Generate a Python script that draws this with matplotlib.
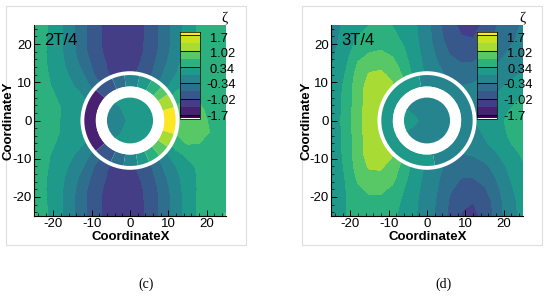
import numpy as np
import matplotlib
matplotlib.use('Agg')
import matplotlib.pyplot as plt
from matplotlib.colors import ListedColormap, BoundaryNorm
from matplotlib.patches import Circle, Wedge, Rectangle

plt.rcParams['font.family'] = ['Liberation Sans', 'DejaVu Sans']
plt.rcParams['axes.unicode_minus'] = False

W, H = 550, 298

levels = [-1.7, -1.36, -1.02, -0.68, -0.34, 0, 0.34, 0.68, 1.02, 1.36, 1.7]
bar_ticks = [1.7, 1.02, 0.34, -0.34, -1.02, -1.7]
bar_labels = ['1.7', '1.02', '0.34', '-0.34', '-1.02', '-1.7']
ticks = [-20, -10, 0, 10, 20]

grid = [-25, -21, -18, -15, -12, -9, -6, -3, 0, 3, 6, 9, 12, 15, 18, 21, 25]
disc_grid = [-6, -3, 0, 3, 6]

# 2T/4, rows go from y=-25 up to y=25
zeta_c = [
    [0.75, 0.30, 0.04, -0.28, -0.62, -0.92, -1.12, -1.22, -1.20, -1.07, -0.85, -0.50, -0.20, 0.15, 0.40, 0.48, 0.72],
    [0.52, 0.30, 0.04, -0.28, -0.62, -0.92, -1.12, -1.22, -1.20, -1.07, -0.85, -0.50, -0.20, 0.15, 0.40, 0.48, 0.55],
    [0.48, 0.30, 0.05, -0.25, -0.60, -0.90, -1.10, -1.20, -1.18, -1.05, -0.82, -0.48, -0.16, 0.16, 0.38, 0.46, 0.50],
    [0.48, 0.31, 0.08, -0.18, -0.50, -0.82, -1.04, -1.15, -1.13, -1.00, -0.74, -0.40, -0.10, 0.18, 0.38, 0.46, 0.50],
    [0.48, 0.33, 0.13, -0.08, -0.35, -0.72, -1.00, -1.10, -1.08, -0.95, -0.64, -0.28, 0.00, 0.24, 0.40, 0.47, 0.50],
    [0.49, 0.35, 0.20, 0.03, -0.18, -0.50, -0.85, -1.00, -1.00, -0.85, -0.50, -0.10, 0.22, 0.40, 0.48, 0.52, 0.52],
    [0.50, 0.40, 0.28, 0.14, 0.00, -0.30, -0.70, -0.85, -0.85, -0.70, -0.30, 0.15, 0.52, 0.70, 0.68, 0.55, 0.52],
    [0.50, 0.42, 0.33, 0.20, 0.08, -0.15, -0.50, -0.70, -0.70, -0.50, 0.00, 0.45, 0.72, 0.80, 0.78, 0.67, 0.52],
    [0.50, 0.43, 0.33, 0.22, 0.10, -0.10, -0.40, -0.60, -0.60, -0.40, 0.10, 0.50, 0.75, 0.82, 0.78, 0.64, 0.52],
    [0.50, 0.42, 0.34, 0.22, 0.08, -0.15, -0.50, -0.70, -0.70, -0.50, 0.00, 0.45, 0.72, 0.78, 0.74, 0.58, 0.50],
    [0.50, 0.40, 0.30, 0.15, 0.00, -0.30, -0.70, -0.85, -0.85, -0.70, -0.30, 0.15, 0.50, 0.68, 0.62, 0.50, 0.50],
    [0.49, 0.36, 0.20, 0.03, -0.18, -0.50, -0.85, -1.00, -1.00, -0.85, -0.50, -0.10, 0.20, 0.38, 0.47, 0.50, 0.50],
    [0.48, 0.33, 0.13, -0.08, -0.35, -0.72, -1.00, -1.10, -1.08, -0.95, -0.64, -0.28, 0.00, 0.24, 0.40, 0.47, 0.50],
    [0.48, 0.31, 0.08, -0.18, -0.50, -0.82, -1.04, -1.15, -1.13, -1.00, -0.74, -0.40, -0.10, 0.18, 0.38, 0.46, 0.50],
    [0.48, 0.30, 0.05, -0.25, -0.60, -0.90, -1.10, -1.20, -1.18, -1.05, -0.82, -0.48, -0.16, 0.16, 0.38, 0.46, 0.50],
    [0.52, 0.30, 0.04, -0.28, -0.62, -0.92, -1.12, -1.22, -1.20, -1.07, -0.85, -0.50, -0.20, 0.15, 0.40, 0.48, 0.50],
    [0.72, 0.30, 0.04, -0.28, -0.62, -0.92, -1.12, -1.22, -1.20, -1.07, -0.85, -0.50, -0.20, 0.15, 0.40, 0.48, 0.55],
]
# 3T/4
zeta_d = [
    [-0.05, 0.34, 0.45, 0.50, 0.52, 0.42, 0.20, 0.02, -0.20, -0.42, -0.78, -1.05, -1.15, -0.90, -0.60, -0.18, 0.10],
    [-0.03, 0.33, 0.52, 0.62, 0.62, 0.50, 0.27, 0.05, -0.18, -0.40, -0.72, -0.95, -1.00, -0.85, -0.55, -0.15, 0.12],
    [-0.02, 0.35, 0.62, 0.74, 0.74, 0.62, 0.34, 0.08, -0.14, -0.36, -0.64, -0.82, -0.85, -0.72, -0.45, -0.10, 0.16],
    [0.00, 0.38, 0.74, 0.92, 0.94, 0.78, 0.44, 0.12, -0.10, -0.32, -0.55, -0.68, -0.68, -0.56, -0.33, -0.04, 0.22],
    [0.02, 0.42, 0.84, 1.06, 1.06, 0.90, 0.54, 0.17, -0.07, -0.27, -0.45, -0.54, -0.53, -0.42, -0.22, 0.04, 0.30],
    [0.03, 0.46, 0.88, 1.16, 1.20, 1.04, 0.64, 0.22, -0.05, -0.22, -0.34, -0.36, -0.32, -0.20, -0.04, 0.16, 0.38],
    [0.04, 0.48, 0.88, 1.18, 1.26, 1.12, 0.72, 0.27, -0.05, -0.18, -0.24, -0.22, -0.12, -0.04, 0.10, 0.30, 0.46],
    [0.05, 0.49, 0.88, 1.20, 1.29, 1.15, 0.78, 0.30, -0.05, -0.18, -0.22, -0.20, -0.10, 0.04, 0.18, 0.36, 0.50],
    [0.05, 0.50, 0.88, 1.20, 1.30, 1.15, 0.80, 0.30, -0.05, -0.15, -0.18, -0.15, -0.02, 0.12, 0.24, 0.38, 0.50],
    [0.05, 0.49, 0.88, 1.20, 1.29, 1.15, 0.78, 0.30, -0.05, -0.15, -0.18, -0.17, -0.10, 0.02, 0.16, 0.32, 0.44],
    [0.04, 0.48, 0.88, 1.18, 1.26, 1.12, 0.74, 0.28, -0.05, -0.15, -0.20, -0.20, -0.15, -0.08, 0.06, 0.22, 0.36],
    [0.02, 0.44, 0.88, 1.14, 1.20, 1.06, 0.72, 0.25, -0.05, -0.20, -0.30, -0.33, -0.30, -0.22, -0.12, 0.04, 0.18],
    [0.00, 0.38, 0.82, 1.05, 1.08, 0.94, 0.62, 0.20, -0.07, -0.25, -0.42, -0.48, -0.45, -0.36, -0.24, -0.10, 0.04],
    [-0.04, 0.30, 0.70, 0.88, 0.92, 0.78, 0.48, 0.14, -0.10, -0.35, -0.58, -0.68, -0.66, -0.52, -0.37, -0.22, -0.08],
    [-0.08, 0.22, 0.54, 0.66, 0.70, 0.60, 0.38, 0.10, -0.15, -0.45, -0.72, -0.84, -0.85, -0.70, -0.50, -0.33, -0.18],
    [-0.12, 0.14, 0.38, 0.50, 0.56, 0.46, 0.28, 0.06, -0.20, -0.55, -0.85, -0.98, -1.00, -0.85, -0.62, -0.42, -0.25],
    [-0.15, 0.08, 0.20, 0.34, 0.44, 0.33, 0.22, 0.03, -0.22, -0.62, -0.92, -1.10, -1.15, -0.95, -0.70, -0.50, -0.30],
]

disc_c = [
    [0.02, 0.05, 0.12, 0.15, 0.15],
    [-0.10, -0.03, 0.08, 0.12, 0.15],
    [-0.20, -0.10, 0.05, 0.10, 0.15],
    [-0.10, -0.03, 0.08, 0.12, 0.15],
    [0.02, 0.05, 0.12, 0.15, 0.15],
]
disc_d = [
    [-0.20, -0.20, -0.20, -0.20, -0.20],
    [0.02, -0.10, -0.20, -0.20, -0.20],
    [0.15, 0.05, -0.15, -0.20, -0.20],
    [0.02, -0.10, -0.20, -0.20, -0.20],
    [-0.20, -0.20, -0.20, -0.20, -0.20],
]

# angle sectors of the ring, degrees from +x
ring_edges_c = [-17, 17, 35, 47, 62, 78, 97, 113, 138, 222, 245, 262, 280, 295, 310, 325, 343]
ring_vals_c = [1.8, 1.2, 0.85, 0.5, 0.17, -0.17, -0.5, -0.85, -1.5, -0.85, -0.5, -0.17, 0.17, 0.5, 0.85, 1.2]
ring_edges_d = [-80, 100, 280]
ring_vals_d = [-0.17, 0.17]

# tecplot bands, upper ones run quicker to yellow than a plain viridis split
band_pos = [0, 0.09, 0.18, 0.27, 0.36, 0.45, 0.54, 0.64, 0.74, 0.87, 0.92, 1]
cmap = ListedColormap(plt.cm.viridis(band_pos))
norm = BoundaryNorm([-3] + levels + [3], 12)


def px_axes(fig, x0, y0, x1, y1):
    return fig.add_axes([x0 / W, 1 - y1 / H, (x1 - x0) / W, (y1 - y0) / H])


def panel(fig, x0, field, disc, edges, vals, name, cap, frame_x):
    fig.add_artist(Rectangle((frame_x / W, 1 - 245 / H), 240 / W, 239 / H, transform=fig.transFigure,
                             fill=False, ec='#dddddd', lw=0.8))
    ax = px_axes(fig, x0, 25, x0 + 192, 216)
    ax.contourf(grid, grid, field, levels=[-3] + levels + [3], cmap=cmap, norm=norm, zorder=1)
    ax.add_patch(Circle((0, 0), 12.9, fc='white', ec='none', zorder=2))
    for i in range(len(vals)):
        ax.add_patch(Wedge((0, 0), 11.9, edges[i], edges[i + 1], width=3.0,
                           fc=cmap(norm(vals[i])), ec='none', zorder=3))
    ax.add_patch(Circle((0, 0), 8.9, fc='white', ec='none', zorder=4))
    cs = ax.contourf(disc_grid, disc_grid, disc, levels=[-3] + levels + [3], cmap=cmap, norm=norm, zorder=5)
    clip = Circle((0, 0), 6.0, transform=ax.transData)
    cs.set_clip_path(clip)

    ax.set_xlim(-25, 25)
    ax.set_ylim(-25, 25)
    ax.spines['top'].set_visible(False)
    ax.spines['right'].set_visible(False)
    ax.set_xticks(ticks)
    ax.set_yticks(ticks)
    ax.set_xticks(np.arange(-24, 25, 2), minor=True)
    ax.set_yticks(np.arange(-24, 25, 2), minor=True)
    ax.tick_params(which='major', direction='in', length=4, width=0.7, labelsize=9.5, pad=1.5)
    ax.tick_params(which='minor', direction='in', length=2, width=0.5)
    fig.text((x0 + 96.5) / W, 1 - 236.5 / H, 'CoordinateX', fontsize=9.5, fontweight='bold', ha='center', va='center')
    fig.text((x0 - 25) / W, 1 - 120.5 / H, 'CoordinateY', fontsize=9.5, fontweight='bold', rotation=90,
             ha='center', va='center')
    ax.text(-22.3, 21, name, fontsize=12, va='center', zorder=6)

    # colour bar sits on top of the plot
    bar = px_axes(fig, x0 + 146, 32, x0 + 166, 118.5)
    edges_bar = [-1.87] + levels + [1.85]
    band_mid = [(edges_bar[i] + edges_bar[i + 1]) / 2 for i in range(len(edges_bar) - 1)]
    bar.pcolormesh([0, 1], edges_bar, np.array(band_mid).reshape(-1, 1), cmap=cmap, norm=norm)
    bar.hlines(bar_ticks, 0, 1, color='black', lw=0.6)
    bar.set_xlim(0, 1)
    bar.set_ylim(-1.87, 1.85)
    bar.set_xticks([])
    bar.set_yticks([])
    for s in bar.spines.values():
        s.set_linewidth(0.5)
    for i in range(len(bar_labels)):
        lab = bar_labels[i]
        lx = x0 + 176 - (4 if lab[0] == '-' else 0)
        fig.text(lx / W, 1 - (38.5 + i * 15.65) / H, lab, fontsize=9.3, va='center', ha='left')
    fig.text((x0 + 191) / W, 1 - 19 / H, 'ζ', fontsize=11, ha='center', va='center',
             family=['Liberation Serif', 'DejaVu Serif'])
    fig.text((x0 + 112) / W, 1 - 284 / H, cap, fontsize=10, ha='center', va='center',
             family=['Liberation Serif', 'DejaVu Serif'])


fig = plt.figure(figsize=(W / 100, H / 100), dpi=100)
panel(fig, 34, zeta_c, disc_c, ring_edges_c, ring_vals_c, '2T/4', '(c)', 6)
panel(fig, 331, zeta_d, disc_d, ring_edges_d, ring_vals_d, '3T/4', '(d)', 302)
fig.savefig('out.png', dpi=100)
